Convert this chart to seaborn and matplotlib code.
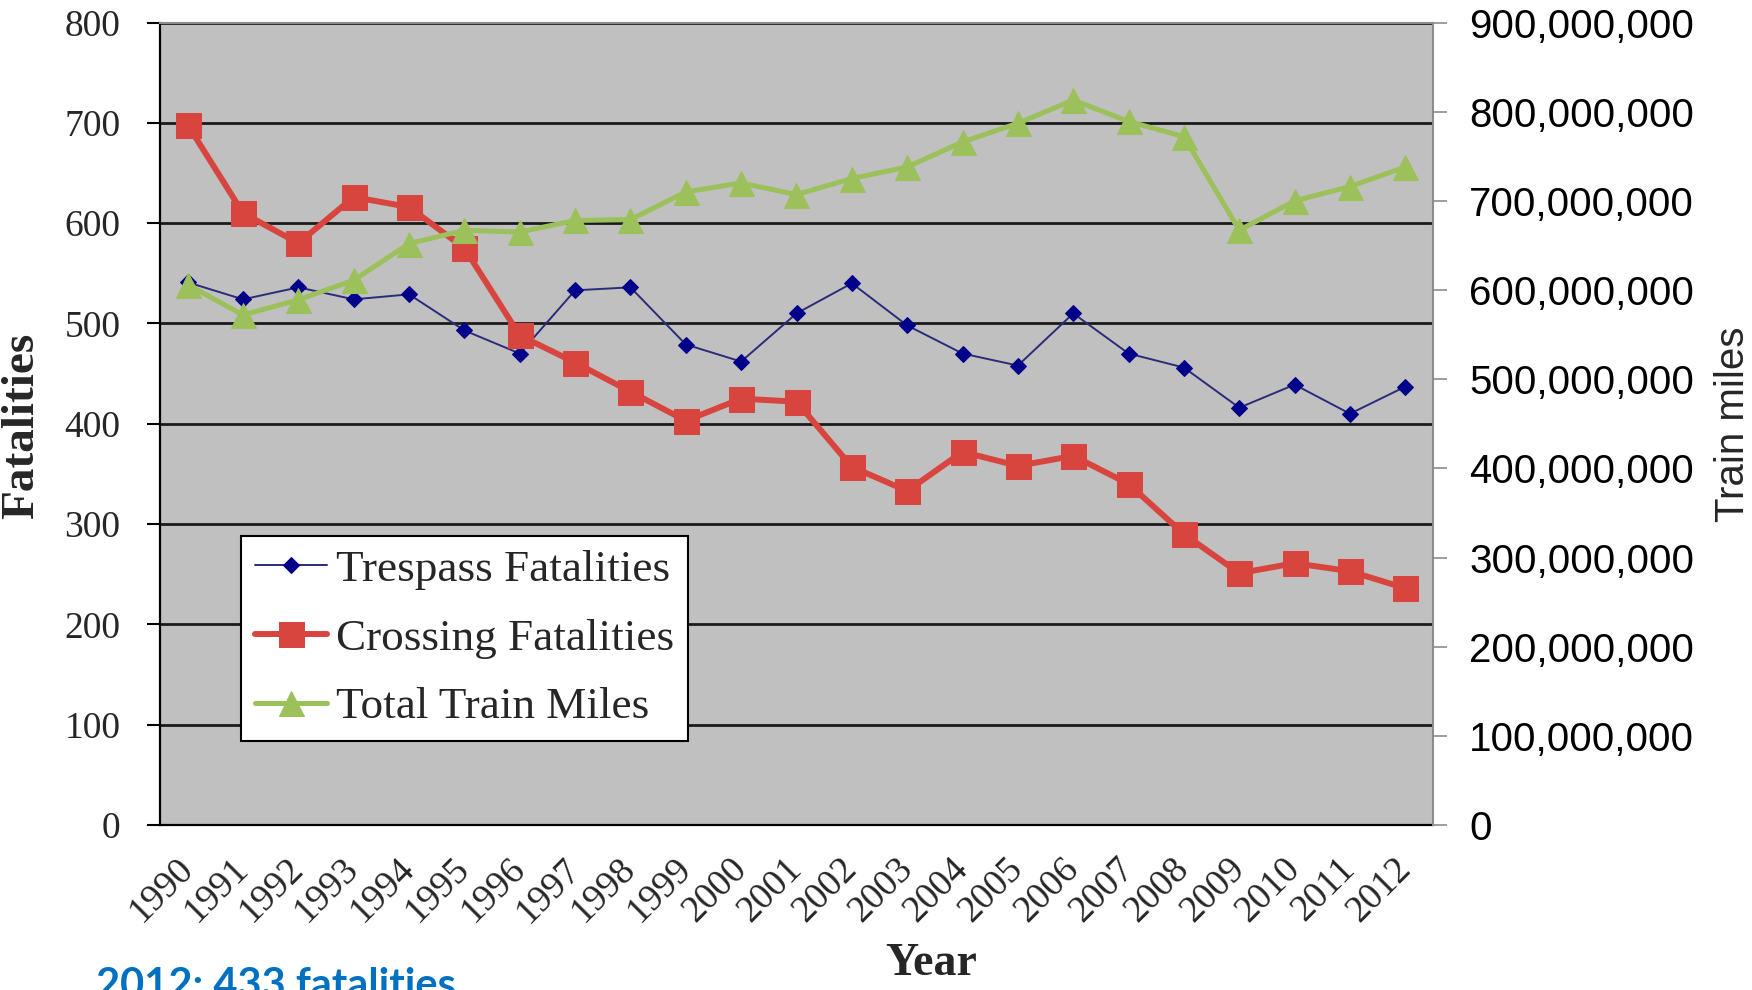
import numpy as np
import seaborn as sns
import matplotlib.pyplot as plt
from matplotlib.ticker import FuncFormatter, MultipleLocator

sns.set_style("white")
plt.rcParams['font.family'] = ['Liberation Serif', 'DejaVu Serif']

# --- Data ---
years = list(range(1990, 2013))
trespass = [541, 524, 536, 524, 529, 493, 470, 533, 536, 479, 462, 510,
            540, 498, 470, 458, 510, 470, 456, 416, 439, 410, 437]
crossing = [698, 610, 580, 626, 616, 575, 488, 461, 432, 403, 425, 422,
            357, 333, 372, 358, 368, 340, 290, 251, 261, 253, 236]
train_miles_m = [606, 572, 589, 611, 652, 667, 665, 678, 679, 710, 720, 707,
                 725, 738, 766, 787, 813, 789, 772, 667, 700, 716, 738]
train_miles = [v * 1_000_000 for v in train_miles_m]
series_labels = ["Trespass Fatalities", "Crossing Fatalities", "Total Train Miles"]

BLUE_LINE = "#2B2B7A"
BLUE_MARK = "#00008B"
RED = "#D8453F"
GREEN = "#9CC15A"
SERIF = "Liberation Serif"
SANS = "Liberation Sans"

W, H = 1752, 990
fig = plt.figure(figsize=(W / 100, H / 100), dpi=100)
left, right, top, bottom = 160, 1433, 22.5, 825
ax = fig.add_axes([left / W, 1 - bottom / H, (right - left) / W, (bottom - top) / H])
ax.set_facecolor("#C0C0C0")

sns.lineplot(x=years, y=trespass, ax=ax, color=BLUE_LINE, linewidth=1.4,
             marker="D", markersize=8, markerfacecolor=BLUE_MARK,
             markeredgecolor=BLUE_MARK, legend=False)
sns.lineplot(x=years, y=crossing, ax=ax, color=RED, linewidth=4.3,
             marker="s", markersize=18, markerfacecolor=RED,
             markeredgecolor=RED, legend=False)

ax2 = ax.twinx()
sns.lineplot(x=years, y=train_miles, ax=ax2, color=GREEN, linewidth=3.6,
             marker="^", markersize=18, markerfacecolor=GREEN,
             markeredgecolor=GREEN, legend=False)

# --- Left axis ---
ax.set_ylim(0, 800)
ax.yaxis.set_major_locator(MultipleLocator(100))
ax.yaxis.grid(True, color="#1a1a1a", linewidth=2)
ax.xaxis.grid(False)
ax.set_axisbelow(True)
ax.tick_params(axis="y", which="major", direction="out", length=9.5, width=1.5,
               color="black", pad=19, labelsize=27)
for lab in ax.get_yticklabels():
    lab.set_family(SERIF)

# --- X axis: categories with ticks between them ---
ax.set_xlim(years[0] - 0.5, years[-1] + 0.5)
ax.set_xticks(years)
ax.set_xticks(np.arange(years[0] - 0.5, years[-1] + 1, 1), minor=True)
ax.set_xticklabels([str(y) for y in years], rotation=45, ha="right", va="center",
                   rotation_mode="anchor", fontsize=27, family=SERIF)
ax.tick_params(axis="x", which="major", length=0, pad=28)
ax.tick_params(axis="x", which="minor", direction="out", length=9, width=1.5,
               color="black")

for side in ["top", "right"]:
    ax.spines[side].set_visible(False)
for side in ["left", "bottom"]:
    ax.spines[side].set_color("black")
    ax.spines[side].set_linewidth(1.6)

# --- Right axis ---
ax2.set_ylim(0, 900_000_000)
ax2.yaxis.set_major_locator(MultipleLocator(100_000_000))
ax2.yaxis.set_major_formatter(FuncFormatter(lambda v, p: f"{int(v):,}"))
ax2.tick_params(axis="y", direction="out", length=10, width=1.2, color="#8c8c8c",
                labelcolor="black", pad=16, labelsize=29)
for lab in ax2.get_yticklabels():
    lab.set_family(SANS)
ax2.grid(False)
for side in ["left", "bottom"]:
    ax2.spines[side].set_visible(False)
for side in ["top", "right"]:
    ax2.spines[side].set_color("#8c8c8c")
    ax2.spines[side].set_linewidth(1.5)

# --- Axis titles ---
ax.set_xlabel("Year", fontsize=33, fontweight="bold", family=SERIF)
ax.xaxis.set_label_coords((931 - left) / (right - left), -0.147)
ax.set_ylabel("Fatalities", fontsize=34, fontweight="bold", family=SERIF)
ax.yaxis.set_label_coords(-0.092, 0.497)
ax2.set_ylabel("Train miles", fontsize=29, family=SANS)
ax2.yaxis.set_label_coords(1.221, 0.5)

# --- Legend ---
handles = ax.get_lines()[:2] + ax2.get_lines()[:1]
leg = ax2.legend(handles, series_labels, loc="lower left",
                 bbox_to_anchor=((241.5 - left) / (right - left), (bottom - 741) / (bottom - top)),
                 borderaxespad=0, frameon=True, fancybox=False, edgecolor="black",
                 facecolor="white", framealpha=1, handlelength=1.6,
                 handletextpad=0.2, labelspacing=0.62, borderpad=0.3,
                 prop={"family": SERIF, "size": 32.5})
leg.get_frame().set_linewidth(1.5)

# --- Footnote (cut by the bottom edge, as in the source image) ---
fig.text(96 / W, (H - 998) / H, "2012: 433 fatalities", color="#0070C0",
         fontsize=30, fontweight="bold", family="Lato", ha="left", va="baseline")

fig.savefig("out.png", dpi=100)
plt.close(fig)
